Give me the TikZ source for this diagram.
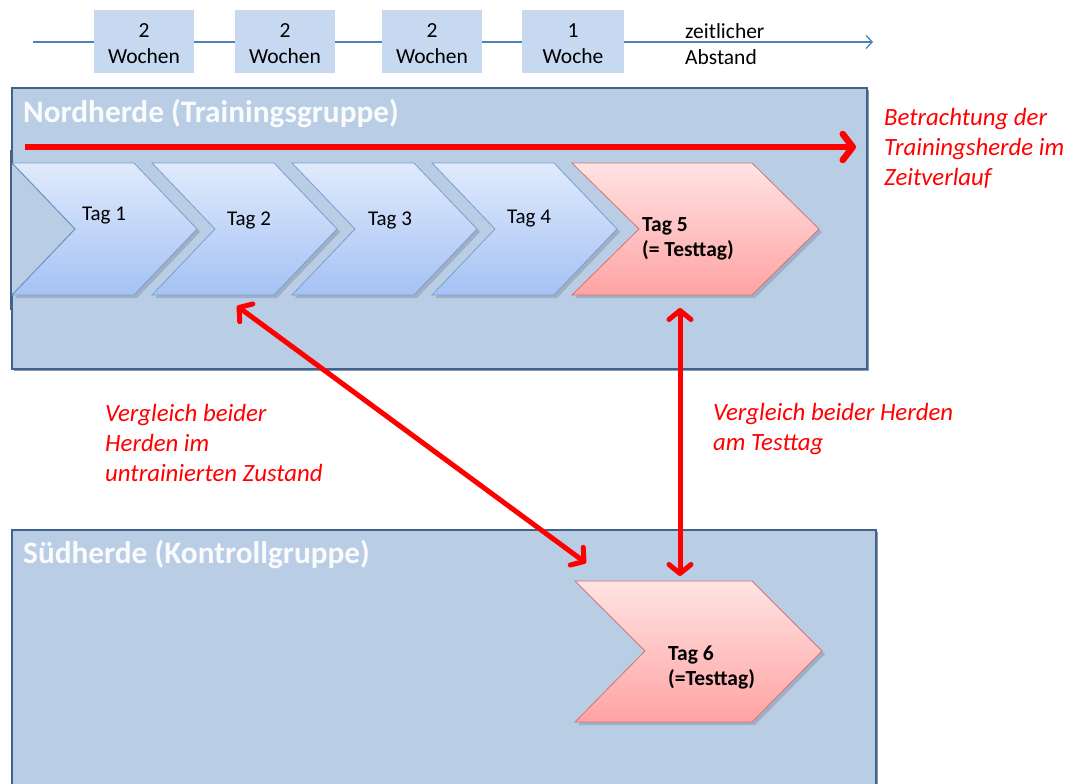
\documentclass[tikz,border=0pt]{standalone}
\usepackage{fontspec}
\setmainfont{Carlito}
\usetikzlibrary{arrows.meta}
\definecolor{boxfill}{HTML}{B9CDE5}
\definecolor{boxline}{HTML}{41628C}
\definecolor{tlfill}{HTML}{C6D9F1}
\definecolor{tlline}{HTML}{4F81BD}
\definecolor{bluetop}{HTML}{E0EAFC}
\definecolor{bluebot}{HTML}{A5C2F4}
\definecolor{blueline}{HTML}{7B9FD0}
\definecolor{redtop}{HTML}{FFE3E3}
\definecolor{redbot}{HTML}{FFA3A3}
\definecolor{redline}{HTML}{D07575}
\definecolor{arrred}{HTML}{FF0000}
\tikzset{
  herdbox/.style={draw=boxline, line width=2.2pt, fill=boxfill},
  tlbox/.style={fill=tlfill, minimum width=100pt, minimum height=63pt, inner sep=0pt, align=center, font=\fontsize{21.5}{26}\selectfont, text=black},
  bluechev/.style={top color=bluetop, bottom color=bluebot, draw=blueline, line width=0.8pt},
  redchev/.style={top color=redtop, bottom color=redbot, draw=redline, line width=0.8pt},
  chevshadow/.style={fill=black!14!boxfill, draw=none},
  tagtext/.style={font=\fontsize{21}{25}\selectfont, text=black, inner sep=0pt},
  tagbold/.style={font=\bfseries\fontsize{21.5}{25}\selectfont, text=black, inner sep=0pt, align=left},
  herdtitle/.style={font=\bfseries\fontsize{31.3}{36}\selectfont, text=white!92!boxfill, inner sep=0pt, anchor=west},
  redtext/.style={font=\itshape\fontsize{24.8}{30}\selectfont, text=arrred, inner sep=0pt, align=left, anchor=north west},
  bigarrow/.style={draw=arrred, line width=6.5pt, -{Straight Barb[length=10pt, width=26pt, round]}},
  dblarrow/.style={draw=arrred, line width=5pt, {Straight Barb[length=9pt, width=22pt, round]}-{Straight Barb[length=9pt, width=22pt, round]}},
}
\begin{document}
\begin{tikzpicture}[x=1pt,y=-1pt]
\useasboundingbox (0,0) rectangle (1071,784);

% timeline
\coordinate (tlstart) at (33,42);
\coordinate (tlend) at (873,42);
\draw[draw=tlline, line width=1.3pt, -{Straight Barb[length=6pt, width=13pt]}] (tlstart) -- (tlend);
\node[tlbox] (w1) at (144,41.5) {};
\node[tlbox] (w2) at (285,41.5) {};
\node[tlbox] (w3) at (432,41.5) {};
\node[tlbox, minimum width=102pt] (w4) at (573,41.5) {};
\node[tlbox, fill=none] (w1t) at (144,44) {2\\Wochen};
\node[tlbox, fill=none] (w2t) at (285,44) {2\\Wochen};
\node[tlbox, fill=none] (w3t) at (432,44) {2\\Wochen};
\node[tlbox, fill=none] (w4t) at (573,44) {1\\Woche};
\node[font=\fontsize{21.5}{26}\selectfont, align=left, anchor=west, inner sep=0pt] (za) at (685,44) {zeitlicher\\Abstand};

% north box
\fill[black!25!boxfill] (14,90) rectangle (869,371);
\node[herdbox, draw, minimum width=855pt, minimum height=281pt, anchor=north west, inner sep=0pt] (north) at (11,87) {};
\node[herdtitle] (ntitle) at (23,114) {Nordherde (Trainingsgruppe)};

% south box
\fill[black!25!boxfill] (14,532) rectangle (878,790);
\node[herdbox, draw, minimum width=864pt, minimum height=270pt, anchor=north west, inner sep=0pt] (south) at (11,529) {};
\node[herdtitle] (stitle) at (23,555) {Südherde (Kontrollgruppe)};

% blue chevrons
\foreach \i/\L in {1/12,2/152,3/292,4/432}{
  \fill[chevshadow] (\L+3,166) -- (\L+125,166) -- (\L+188,232) -- (\L+125,298) -- (\L+3,298) -- (\L+66,232) -- cycle;
  \shade[bluechev] (\L,163) -- (\L+122,163) -- (\L+185,229) -- (\L+122,295) -- (\L,295) -- (\L+63,229) -- cycle;
}
\fill[boxfill] (12,164) -- (74,229) -- (12,294) -- cycle;
\draw[draw=blueline!80!boxline, line width=0.8pt] (12,163) -- (75,229) -- (12,295);
\draw[draw=boxline, line width=2.2pt] (11,150) -- (11,310);

% red chevron Tag 5
\fill[chevshadow] (575,166) -- (755,166) -- (822,232) -- (755,298) -- (575,298) -- (642,232) -- cycle;
\shade[redchev] (572,163) -- (752,163) -- (819,229) -- (752,295) -- (572,295) -- (639,229) -- cycle;

% red chevron Tag 6
\fill[chevshadow] (578,584) -- (755,584) -- (825,654) -- (755,725) -- (578,725) -- (648,654) -- cycle;
\shade[redchev] (575,581) -- (752,581) -- (822,651) -- (752,722) -- (575,722) -- (645,651) -- cycle;

% chevron texts
\node[tagtext] (t1) at (104,216) {Tag 1};
\node[tagtext] (t2) at (249,220) {Tag 2};
\node[tagtext] (t3) at (390,220) {Tag 3};
\node[tagtext] (t4) at (529,219) {Tag 4};
\node[tagbold, anchor=west] (t5) at (642,239) {Tag 5\\(= Testtag)};
\node[tagbold, anchor=west] (t6) at (668,667) {Tag 6\\(=Testtag)};

% arrow anchors
\coordinate (tz1) at (25,147);
\coordinate (tz2) at (856,147);
\coordinate (a1s) at (237,306);
\coordinate (a1e) at (586,563);
\coordinate (a2s) at (680,308);
\coordinate (a2e) at (680,576);

\draw[bigarrow] (tz1) -- (tz2);
\draw[dblarrow] (a1s) -- (a1e);
\draw[dblarrow] (a2s) -- (a2e);

% red texts
\node[redtext] (rt1) at (884,108) {Betrachtung der\\Trainingsherde im\\Zeitverlauf};
\node[redtext] (rt2) at (105,404) {Vergleich beider\\Herden im\\untrainierten Zustand};
\node[redtext] (rt3) at (713,403) {Vergleich beider Herden\\am Testtag};
\end{tikzpicture}
\end{document}
